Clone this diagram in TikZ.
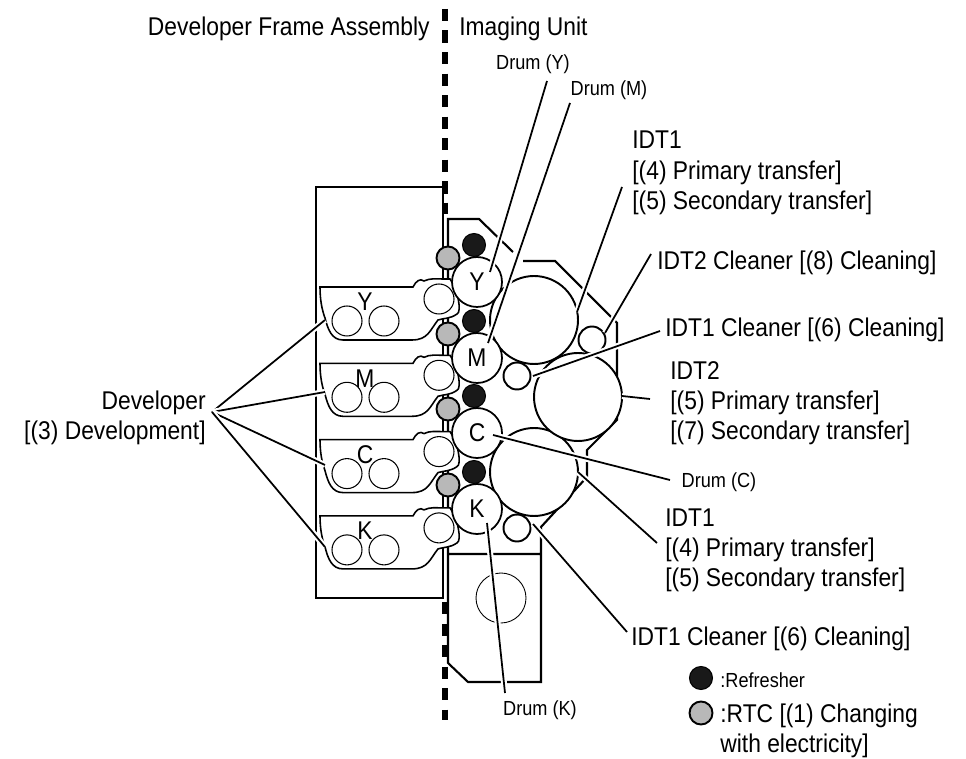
\documentclass[tikz,border=0pt]{standalone}
\usepackage{fontspec}
\setmainfont[FakeStretch=.89]{Liberation Sans}
\newcommand{\bigtext}{\fontsize{14.6pt}{17.1pt}\selectfont}
\newcommand{\smalltext}{\fontsize{11.6pt}{13pt}\selectfont}
\tikzset{
  drum/.style={circle,draw,fill=white,line width=1pt,minimum size=1cm,inner sep=0pt},
  refresher/.style={circle,draw,fill=black!90,line width=.6pt,minimum size=.46cm,inner sep=0pt},
  rtc/.style={circle,draw,fill=black!28,line width=1.1pt,minimum size=.46cm,inner sep=0pt},
  roller/.style={circle,draw,fill=white,line width=.6pt,minimum size=.6cm,inner sep=0pt},
  belt/.style={circle,draw,fill=white,line width=1.1pt,minimum size=1.76cm,inner sep=0pt},
  cleaner/.style={circle,draw,fill=white,line width=1.1pt,minimum size=.54cm,inner sep=0pt},
  leader/.style={line width=1pt,preaction={draw=white,line width=3.4pt}},
  frameline/.style={line width=1.2pt},
  split/.style={line width=3.2pt,dash pattern=on 7.1pt off 5.14pt},
  lab/.style={inner sep=0pt,font=\bigtext,align=left},
  slab/.style={inner sep=0pt,font=\smalltext,align=left}
}
\begin{document}
\begin{tikzpicture}[x=.02cm,y=-.02cm]
\useasboundingbox (0,0) rectangle (966,759);
\draw[split] (445,9)--(445,214);
\draw[split] (445,602)--(445,720);
\draw[frameline,fill=white] (316,187) rectangle (443,598);
\draw[frameline] (448,554) -- (448,219) -- (479,219) -- (513,252) (523,261) -- (555,261) -- (617,323) -- (617,420)
  -- (587,450) -- (587,477) -- (541,527) -- (541,682) -- (468,682) -- (448,663) -- (448,554) -- (541,554);
\node[roller,minimum size=1cm,line width=.5pt] (base) at (501,598) {};
\foreach \name/\ypos in {Y/0,M/76.3,C/152.6,K/228.9}{
\begin{scope}[yshift={-\ypos*.02cm}]
\draw[line width=.9pt,fill=white] (320,287) -- (413,287) .. controls (416,281) and (420,278) .. (424,281)
  .. controls (430,278) and (436,279) .. (443,279) -- (450,279) .. controls (458,290) and (462,312) .. (457,314)
  .. controls (450,319) and (444,318) .. (438,320) .. controls (430,330) and (428,340) .. (412,340) -- (343,340)
  .. controls (332,340) and (328,330) .. (325,318) .. controls (322,310) and (320,300) .. (320,287) -- cycle;
\node[roller] (dev\name a) at (347,321) {};
\node[roller] (dev\name b) at (384,321) {};
\node[roller] (dev\name r) at (439,299) {};
\node[font=\bigtext,inner sep=0pt] (let\name) at (365,302) {\name};
\end{scope}
}
\node[belt] (beltA) at (534,320) {};
\node[belt] (beltB) at (534,472) {};
\node[belt] (beltC) at (578,397) {};
\node[cleaner] (cleanA) at (592,340) {};
\node[cleaner] (cleanB) at (517,376) {};
\node[cleaner] (cleanC) at (517,528) {};
\foreach \name/\ypos in {Y/282,M/358,C/433,K/509}{
\node[refresher] (ref\name) at (474,\ypos-37) {};
\node[rtc] (rtc\name) at (448,\ypos-24) {};
\node[drum,font=\bigtext] (drum\name) at (477,\ypos) {\name};
}
\node[lab,anchor=east] (devframe) at (430,29) {Developer Frame Assembly};
\node[lab,anchor=west] (imaging) at (459,29) {Imaging Unit};
\node[slab] (lY) at (533,64) {Drum (Y)};
\node[slab] (lM) at (609,90) {Drum (M)};
\node[slab] (lC) at (719,482) {Drum (C)};
\node[slab] (lK) at (540,710) {Drum (K)};
\node[lab,anchor=north west] (idtA) at (632,131) {IDT1\\{}[(4) Primary transfer]\\{}[(5) Secondary transfer]};
\node[lab,anchor=west] (cleanAt) at (657,263) {IDT2 Cleaner [(8) Cleaning]};
\node[lab,anchor=west] (cleanBt) at (665,330) {IDT1 Cleaner [(6) Cleaning]};
\node[lab,anchor=north west] (idtC) at (670,361) {IDT2\\{}[(5) Primary transfer]\\{}[(7) Secondary transfer]};
\node[lab,anchor=north west] (idtB) at (665,508) {IDT1\\{}[(4) Primary transfer]\\{}[(5) Secondary transfer]};
\node[lab,anchor=west] (cleanCt) at (631,639) {IDT1 Cleaner [(6) Cleaning]};
\node[lab,align=right,anchor=east] (developer) at (206,418) {Developer\\{}[(3) Development]};
\coordinate (fan) at (212,412);
\foreach \ypos/\tip in {320/Y,392/M,465/C,547/K}{
\coordinate (to\tip) at (325,\ypos);
\draw[leader] (fan) -- (to\tip);
}
\coordinate (tipY) at (490,272);
\coordinate (tipM) at (488,343);
\coordinate (tipC) at (493,435);
\coordinate (tipK) at (487,523);
\coordinate (fromY) at (547,81);
\coordinate (fromM) at (570,103);
\coordinate (fromC) at (670,480);
\coordinate (fromK) at (505,693);
\draw[leader] (fromY) -- (tipY);
\draw[leader] (fromM) -- (tipM);
\draw[leader] (fromC) -- (tipC);
\draw[leader] (fromK) -- (tipK);
\coordinate (a1) at (622,187);
\coordinate (a2) at (577,312);
\draw[leader] (a1) -- (a2);
\coordinate (b1) at (651,254);
\coordinate (b2) at (605,333);
\draw[leader] (b1) -- (b2);
\coordinate (c1) at (660,331);
\coordinate (c2) at (533,376);
\draw[leader] (c1) -- (c2);
\coordinate (d1) at (650,399);
\coordinate (d2) at (622,396);
\draw[leader] (d1) -- (d2);
\coordinate (e1) at (657,543);
\coordinate (e2) at (578,472);
\draw[leader] (e1) -- (e2);
\coordinate (f1) at (627,632);
\coordinate (f2) at (533,524);
\draw[leader] (f1) -- (f2);
\node[refresher] (keyA) at (701,678) {};
\node[rtc] (keyB) at (701,713) {};
\node[slab,anchor=west] (keyAt) at (720,680) {:Refresher};
\node[lab,anchor=north west] (keyBt) at (720,704) {:RTC [(1) Changing\\with electricity]};
\end{tikzpicture}
\end{document}
